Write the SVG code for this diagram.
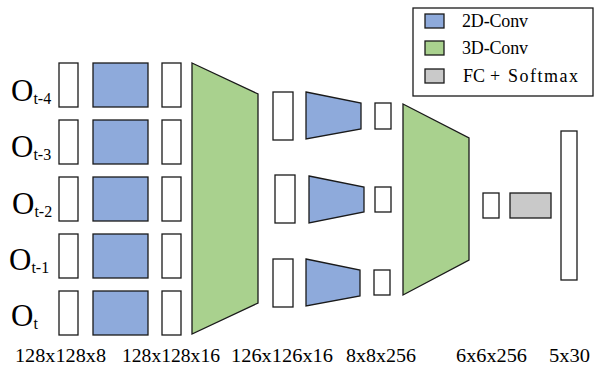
<svg xmlns="http://www.w3.org/2000/svg" width="597" height="369" viewBox="0 0 597 369">
<style>
.s{stroke:#1a1a1a;stroke-width:1.3;stroke-linejoin:miter}
.w{fill:#fff}
.b{fill:#8eaadb}
.g{fill:#a9d18e}
.gr{fill:#c9c9c9}
text{font-family:"Liberation Serif","DejaVu Serif",serif;fill:#000}
.o{font-size:31px}
.sub{font-size:16px}
.lbl{font-size:19px}
.lg{font-size:18px}
</style>
<rect width="597" height="369" fill="#fff"/>
<g id="inputs">
<text x="11" y="101" class="o">O<tspan class="sub" dy="3">t-4</tspan></text>
<text x="11" y="157" class="o">O<tspan class="sub" dy="3">t-3</tspan></text>
<text x="12" y="214" class="o">O<tspan class="sub" dy="3">t-2</tspan></text>
<text x="9" y="270" class="o">O<tspan class="sub" dy="3">t-1</tspan></text>
<text x="11" y="326" class="o">O<tspan class="sub" dy="3">t</tspan></text>
</g>
<g id="col1">
<rect class="s w" x="59" y="63" width="19" height="44"/>
<rect class="s w" x="59" y="120" width="19" height="44"/>
<rect class="s w" x="59" y="177" width="19" height="44"/>
<rect class="s w" x="59" y="234" width="19" height="44"/>
<rect class="s w" x="59" y="291" width="19" height="44"/>
</g>
<g id="conv2d-1">
<rect class="s b" x="93" y="63" width="55" height="44"/>
<rect class="s b" x="93" y="120" width="55" height="44"/>
<rect class="s b" x="93" y="177" width="55" height="44"/>
<rect class="s b" x="93" y="234" width="55" height="44"/>
<rect class="s b" x="93" y="291" width="55" height="44"/>
</g>
<g id="col2">
<rect class="s w" x="162" y="63" width="19" height="44"/>
<rect class="s w" x="162" y="120" width="19" height="44"/>
<rect class="s w" x="162" y="177" width="19" height="44"/>
<rect class="s w" x="162" y="234" width="19" height="44"/>
<rect class="s w" x="162" y="291" width="19" height="44"/>
</g>
<g id="conv3d-1">
<polygon class="s g" points="192,63 258,94 258,303 192,334"/>
</g>
<g id="col3">
<rect class="s w" x="273" y="92" width="20" height="48"/>
<rect class="s w" x="275" y="175" width="20" height="48"/>
<rect class="s w" x="273" y="259" width="20" height="48"/>
</g>
<g id="conv2d-2">
<polygon class="s b" points="306,92 361,103 361,129 306,139"/>
<polygon class="s b" points="309,176 364,187 364,212 309,223"/>
<polygon class="s b" points="306,259 360,270 360,296 306,306"/>
</g>
<g id="col4">
<rect class="s w" x="375" y="103" width="16" height="26"/>
<rect class="s w" x="375" y="187" width="16" height="25"/>
<rect class="s w" x="374" y="270" width="16" height="25"/>
</g>
<g id="conv3d-2">
<polygon class="s g" points="403,104 469,138 469,260 403,295"/>
</g>
<g id="col5">
<rect class="s w" x="483" y="193" width="16" height="25"/>
</g>
<g id="fc">
<rect class="s gr" x="510" y="193" width="41" height="25"/>
</g>
<g id="output">
<rect class="s w" x="561" y="131" width="16" height="149"/>
</g>
<g id="legend">
<rect class="s w" x="413" y="8" width="180" height="88"/>
<rect class="s b" x="425" y="14" width="19" height="14"/>
<rect class="s g" x="425" y="41" width="19" height="14"/>
<rect class="s gr" x="425" y="69" width="19" height="14"/>
<text x="462" y="27" class="lg" textLength="66" lengthAdjust="spacing">2D-Conv</text>
<text x="462" y="54" class="lg" textLength="66" lengthAdjust="spacing">3D-Conv</text>
<text y="82" class="lg"><tspan x="463">FC</tspan> <tspan x="490">+</tspan> <tspan x="508" textLength="70" lengthAdjust="spacing">Softmax</tspan></text>
</g>
<g id="labels">
<text x="15" y="362" class="lbl" textLength="91" lengthAdjust="spacingAndGlyphs">128x128x8</text>
<text x="122" y="362" class="lbl" textLength="98" lengthAdjust="spacingAndGlyphs">128x128x16</text>
<text x="231" y="362" class="lbl" textLength="102" lengthAdjust="spacingAndGlyphs">126x126x16</text>
<text x="346" y="362" class="lbl" textLength="70" lengthAdjust="spacingAndGlyphs">8x8x256</text>
<text x="456" y="362" class="lbl" textLength="71" lengthAdjust="spacingAndGlyphs">6x6x256</text>
<text x="549" y="362" class="lbl" textLength="41" lengthAdjust="spacingAndGlyphs">5x30</text>
</g>
<g id="connectors"></g>
</svg>
